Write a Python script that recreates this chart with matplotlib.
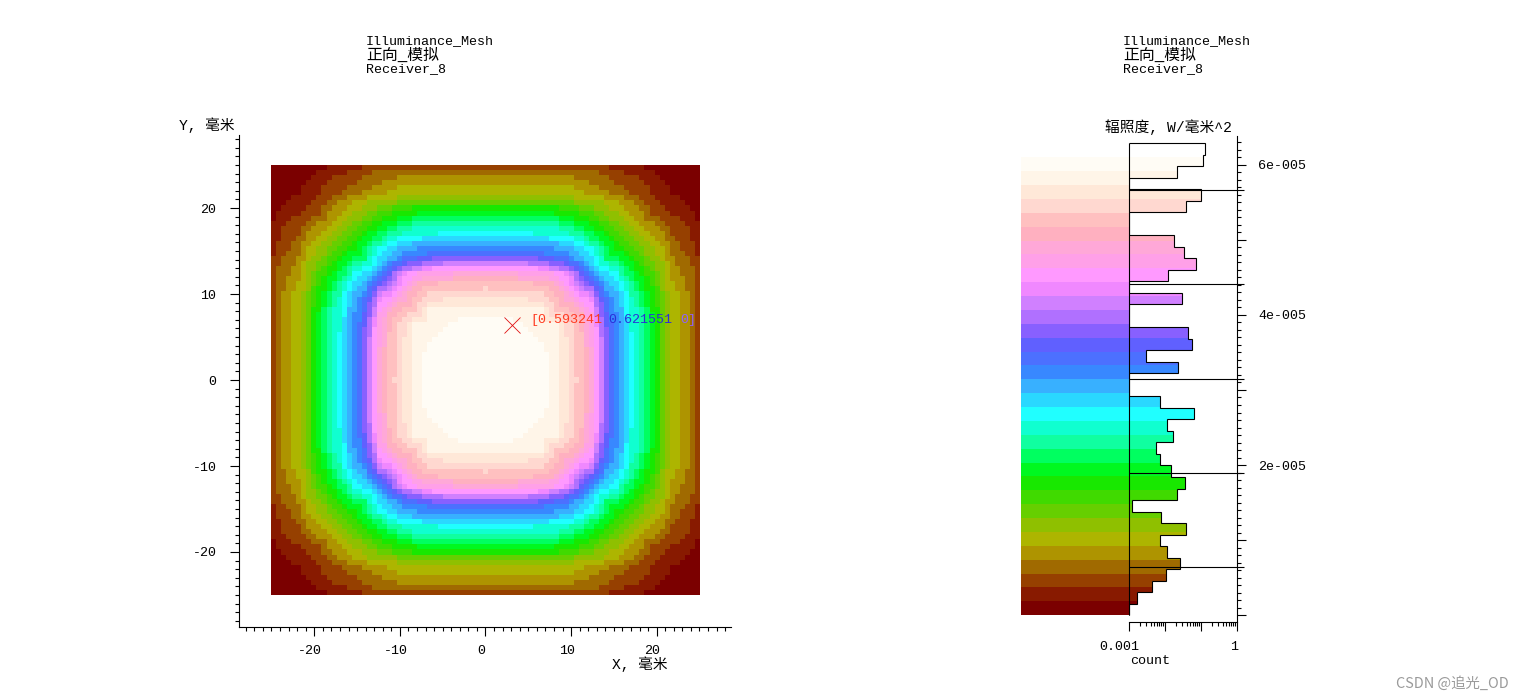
import numpy as np
import matplotlib
matplotlib.use("Agg")
import matplotlib.pyplot as plt
from matplotlib.colors import ListedColormap
from matplotlib.ticker import FixedLocator, FixedFormatter, LogLocator, MultipleLocator, NullFormatter
from matplotlib.transforms import ScaledTranslation

W, H = 1524, 700
MONO = ['Liberation Mono', 'Noto Sans CJK SC']
plt.rcParams['font.family'] = MONO
plt.rcParams['axes.unicode_minus'] = False

# colour bands of the irradiance scale, bottom to top
BAND_COLORS = ['#7b0000', '#881a00', '#964000', '#a06a00', '#ae9400', '#adb500', '#8fc000',
               '#66cf00', '#40da00', '#18e800', '#00f820', '#00ff60', '#10ffa0', '#10ffd0',
               '#20ffff', '#2ad8ff', '#38b0ff', '#3888ff', '#4c70ff', '#6060ff', '#8860ff',
               '#b070ff', '#d080ff', '#f088ff', '#ff99ff', '#ffa0e8', '#ffa8d8', '#ffb0c0',
               '#ffc0c0', '#ffd8d0', '#ffe8d8', '#fff5e8', '#fffcf5']
BAND_TOP = 61e-6

# map, one corner: row -> (band at the diagonal, columns where the band steps up)
CORNER_ROWS = [
    (0, [11, 18]),
    (0, [9, 15, 20]),
    (0, [8, 12, 18, 25]),
    (0, [7, 11, 17, 22]),
    (0, [6, 10, 15, 20, 25]),
    (0, [6, 10, 14, 18, 23]),
    (1, [9, 12, 15, 19, 25]),
    (1, [8, 11, 13, 16, 19, 25]),
    (2, [10, 12, 15, 18, 21, 24, 28]),
    (2, [10, 11, 14, 16, 19, 21, 24, 29]),
    (3, [11, 13, 15, 18, 20, 22, 25, 28]),
    (4, [12, 14, 16, 18, 20, 22, 25, 28]),
    (5, [13, 15, 17, 19, 21, 23, 25, 28]),
    (6, [14, 16, 18, 19, 21, 23, 26, 33]),
    (7, [15, 17, 18, 20, 22, 23, 25, 30]),
    (8, [16, 17, 19, 20, 22, 23, 25, 28]),
    (9, [17, 18, 19, 20, 21, 23, 25, 29]),
    (10, [18, 19, 20, 21, 22, 24, 26, 31]),
    (11, [19, 19, 20, 21, 23, 25, 26, 29, 32]),
    (13, [20, 21, 22, 23, 24, 26, 27, 30, 34]),
    (15, [21, 22, 23, 24, 25, 26, 28, 30, 32]),
    (17, [22, 23, 24, 24, 25, 26, 27, 29, 36]),
    (19, [23, 24, 25, 25, 26, 28, 30, 36]),
    (21, [24, 25, 26, 27, 28, 29, 33]),
    (23, [25, 26, 27, 28, 30, 42]),
    (25, [26, 27, 29, 31]),
    (26, [27, 28, 30, 34]),
    (27, [28, 29, 31]),
    (28, [29, 30, 31]),
    (29, [30, 31]),
    (30, [31, 37]),
    (31, [35]),
    (31, [34]),
    (32, []), (32, []), (32, []), (32, []), (32, []), (32, []), (32, []), (32, []), (32, []), (32, []),
]

# histogram, top bin first; 0.001 means empty
HIST_COUNTS = [0.132, 0.116, 0.0215, 0.001, 0.102, 0.0383, 0.001, 0.001, 0.0178, 0.0337, 0.0726,
               0.0121, 0.001, 0.0296, 0.001, 0.001, 0.0436, 0.0562, 0.00296, 0.0230, 0.001, 0.001,
               0.00726, 0.064, 0.0114, 0.0167, 0.00562, 0.00726, 0.0147, 0.036, 0.0215, 0.00121,
               0.00774, 0.0383, 0.00726, 0.0114, 0.0261, 0.0107, 0.00436, 0.00167, 0.001]
HIST_TOP = 62.9e-6
STAT_LEVELS = [5.66e-5, 4.41e-5, 3.15e-5, 1.90e-5, 0.645e-5]

MAP_TICKS = [-20, -10, 0, 10, 20]
IRR_TICKS = [0, 1e-5, 2e-5, 3e-5, 4e-5, 5e-5, 6e-5]
IRR_LABELS = ['', '', '2e-005', '', '4e-005', '', '6e-005']
COUNT_TICKS = [1e-3, 1e-2, 1e-1, 1]
COUNT_LABELS = ['0.001', '', '', '1']
TITLE_LINES = ['Illuminance_Mesh', '正向_模拟', 'Receiver_8']


def axes_px(fig, left, top, right, bottom):
    return fig.add_axes([left / W, 1 - bottom / H, (right - left) / W, (bottom - top) / H])


def label_px(axis, x, y, ha='left'):
    axis.set_label_coords(x / W, 1 - y / H, transform=fig.transFigure)
    axis.label.set_ha(ha)
    axis.label.set_va('center')


def nudge(label, px):
    label.set_transform(label.get_transform() + ScaledTranslation(px * 0.72 / 72, 0, fig.dpi_scale_trans))


def corner_grid():
    n = len(CORNER_ROWS)
    q = np.zeros((n, n), dtype=int)
    for j, (first, ends) in enumerate(CORNER_ROWS):
        col = j
        for k, e in enumerate(ends):
            q[j, col:e] = first + k
            col = max(col, e)
        q[j, col:] = first + len(ends)
    q = np.triu(q) + np.triu(q, 1).T
    top = np.hstack([q, q[:, -2::-1]])
    return np.vstack([top, top[-2::-1]])


fig = plt.figure(figsize=(W / 100, H / 100), dpi=100)
cmap = ListedColormap(BAND_COLORS)
n_bands = len(BAND_COLORS)

# left: the map
ax = axes_px(fig, 239.3, 135, 731, 627.3)
ax.imshow(corner_grid(), extent=(-25, 25, -25, 25), origin='upper', cmap=cmap,
          vmin=-0.5, vmax=n_bands - 0.5, interpolation='nearest', aspect='auto')
ax.set_xlim(-28.76, 28.68)
ax.set_ylim(-28.76, 28.5)
for s in ('top', 'right'):
    ax.spines[s].set_visible(False)
for s in ('left', 'bottom'):
    ax.spines[s].set_linewidth(0.8)
ax.set_xticks(MAP_TICKS)
ax.set_yticks(MAP_TICKS)
ax.xaxis.set_minor_locator(MultipleLocator(1))
ax.yaxis.set_minor_locator(MultipleLocator(1))
ax.tick_params(which='major', length=6.5, width=0.8, labelsize=9.6)
ax.tick_params(which='minor', length=3, width=0.8)
ax.tick_params(axis='x', which='major', pad=6.5)
ax.tick_params(axis='y', which='major', pad=10)
for lab in ax.get_xticklabels():
    nudge(lab, -4.5)
ax.set_xlabel('X, 毫米', fontsize=10.5)
label_px(ax.xaxis, 612, 664)
ax.set_ylabel('Y, 毫米', fontsize=10.5, rotation=0)
label_px(ax.yaxis, 179, 125)

ax.plot(3.1, 6.4, 'x', color='#e01010', ms=11.5, mew=0.6)
ax.text(5.2, 7.0, '[0.593241', color='#ff3a20', fontsize=9.6, va='center')
ax.text(14.3, 7.0, '0.621551', color='#2a30d8', fontsize=9.6, va='center')
ax.text(22.8, 7.0, '0]', color='#9060ff', fontsize=9.6, va='center')

# right: colour scale and log histogram, sharing one irradiance scale
ylim = (-0.84e-6, 63.9e-6)
cb = axes_px(fig, 1021, 135.5, 1129, 621.5)
band_edges = np.linspace(0, BAND_TOP, n_bands + 1)
cb.pcolormesh([0, 1], band_edges, np.arange(n_bands)[:, None], cmap=cmap, vmin=-0.5, vmax=n_bands - 0.5)
cb.set_ylim(*ylim)
cb.axis('off')

hx = axes_px(fig, 1129, 135.5, 1236.8, 621.5)
hx.set_xscale('log')
hx.set_xlim(1e-3, 1)
hx.set_ylim(*ylim)
mesh = hx.pcolormesh([1e-3, 1], band_edges, np.arange(n_bands)[:, None], cmap=cmap,
                     vmin=-0.5, vmax=n_bands - 0.5)
hist_edges = np.linspace(0, HIST_TOP, len(HIST_COUNTS) + 1)
steps = hx.stairs(HIST_COUNTS[::-1], hist_edges, orientation='horizontal', baseline=1e-3,
                  fill=False, color='black', lw=0.8, zorder=3)
mesh.set_clip_path(steps)
hx.vlines(1e-3, 0, HIST_TOP, color='black', lw=0.8, zorder=4, clip_on=False)
hx.hlines(STAT_LEVELS, 1e-3, 1.56, color='black', lw=0.8, zorder=4, clip_on=False)

for s in ('top', 'left'):
    hx.spines[s].set_visible(False)
for s in ('right', 'bottom'):
    hx.spines[s].set_linewidth(0.8)
hx.yaxis.tick_right()
hx.yaxis.set_major_locator(FixedLocator(IRR_TICKS))
hx.yaxis.set_major_formatter(FixedFormatter(IRR_LABELS))
hx.yaxis.set_minor_locator(MultipleLocator(1e-6))
hx.yaxis.set_minor_formatter(NullFormatter())
hx.xaxis.set_major_locator(FixedLocator(COUNT_TICKS))
hx.xaxis.set_major_formatter(FixedFormatter(COUNT_LABELS))
hx.xaxis.set_minor_locator(LogLocator(base=10, subs=range(2, 10), numticks=12))
hx.xaxis.set_minor_formatter(NullFormatter())
hx.tick_params(which='major', length=6.5, width=0.8, labelsize=9.6)
hx.tick_params(which='minor', length=3, width=0.8)
hx.tick_params(axis='y', which='major', pad=9)
hx.tick_params(axis='x', which='major', pad=7.5)
xlabs = hx.get_xticklabels()
nudge(xlabs[0], -10)
nudge(xlabs[-1], -2.5)
hx.set_xlabel('count', fontsize=9.6)
label_px(hx.xaxis, 1130, 661)
hx.set_ylabel('辐照度, W/毫米^2', fontsize=10.6, rotation=0)
label_px(hx.yaxis, 1105, 127)

for left in (366, 1123):
    for line, y in zip(TITLE_LINES, (41, 55, 69)):
        fig.text(left / W, 1 - y / H, line, va='center', fontsize=11.4 if '正' in line else 9.6)

fig.text(1396 / W, 1 - 684 / H, 'CSDN @追光_OD', va='center', color='#9a9a9a', fontsize=10.4,
         family=['Noto Sans CJK SC', 'DejaVu Sans'])

fig.savefig('out.png', dpi=100)
